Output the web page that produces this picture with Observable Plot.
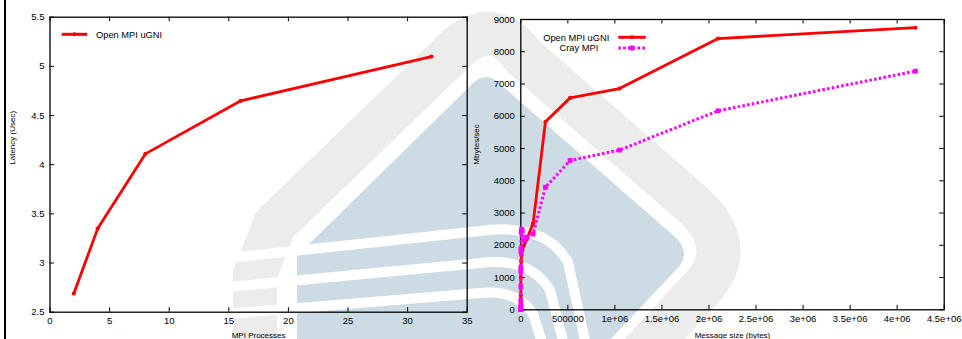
<!DOCTYPE html>
<html><head><meta charset="utf-8">
<script src="https://cdn.jsdelivr.net/npm/d3@7"></script>
<script src="https://cdn.jsdelivr.net/npm/@observablehq/plot@0.6"></script>
<style>
body{margin:0;background:#fff;}
#wrap{position:relative;width:962px;height:339px;overflow:hidden;font-family:"Liberation Sans",Arial,Helvetica,sans-serif;}
#wrap svg{position:absolute;top:0;}
#border{position:absolute;left:4px;top:0;width:1.6px;height:339px;background:#000;}
</style></head><body>
<div id="wrap">
<svg id="wm" width="962" height="339" style="left:0">
  <path d="M297,345 L297,256 L472,84 Q486,70 500,84 L674,236 Q694,254 674,272 L605,345 Z" fill="#cddbe5"/>
  <path d="M255,360 L255,275 L275,224 L447,58 Q490,10 524,57 L698,209 Q738,250 700,290 L635,360" fill="none" stroke="#ebeceb" stroke-width="44" stroke-linejoin="round"/>
  <path d="M228,258 L480,231 Q545,222 568,262 L586,345" fill="none" stroke="#fff" stroke-width="10"/>
  <path d="M228,287 L480,263 Q530,257 550,290 L564,345" fill="none" stroke="#fff" stroke-width="10"/>
  <path d="M228,314 L480,293 Q517,289 533,314 L543,345" fill="none" stroke="#fff" stroke-width="10"/>
</svg>
<div id="border"></div>
</div>
<script>
// ---- data ----
const procs = [2, 4, 8, 16, 32];
const latency = [2.69, 3.35, 4.11, 4.65, 5.10];

const msgSizes = [1, 2, 4, 8, 16, 32, 64, 128, 256, 512, 1024, 2048, 4096, 8192, 16384, 32768,
  65536, 131072, 262144, 524288, 1048576, 2097152, 4194304];
const ugniBw = [2, 4, 8, 15, 30, 60, 120, 240, 450, 750, 1000, 1250, 1500, 1700, 1850, 1990,
  2200, 2680, 5830, 6570, 6860, 8410, 8745];
const crayBw = [5, 10, 20, 40, 80, 150, 300, 720, 1200, 1300, 1800, 1900, 2400, 2500, 2450, 2150,
  2250, 2350, 3800, 4630, 4950, 6170, 7400];

const leftXTicks = [0, 5, 10, 15, 20, 25, 30, 35];
const leftYTicks = [2.5, 3, 3.5, 4, 4.5, 5, 5.5];
const leftYTickLabels = ["2.5", "3", "3.5", "4", "4.5", "5", "5.5"];
const rightXTicks = [0, 500000, 1000000, 1500000, 2000000, 2500000, 3000000, 3500000, 4000000, 4500000];
const rightXTickLabels = ["0", "500000", "1e+06", "1.5e+06", "2e+06", "2.5e+06", "3e+06", "3.5e+06", "4e+06", "4.5e+06"];
const rightYTicks = [0, 1000, 2000, 3000, 4000, 5000, 6000, 7000, 8000, 9000];

const leftTitleX = "MPI Processes", leftTitleY = "Latency (Usec)";
const rightTitleX = "Message size (bytes)", rightTitleY = "Mbytes/sec";
const seriesNames = ["Open MPI uGNI", "Cray MPI"];
const colors = ["#ff0000", "#ff00ff"];

// ---- tables ----
const latData = procs.map((p, i) => ({p, v: latency[i]}));
const ugniData = msgSizes.map((s, i) => ({s, v: ugniBw[i]}));
const crayData = msgSizes.map((s, i) => ({s, v: crayBw[i]}));

const FONT = '"Liberation Sans", Arial, Helvetica, sans-serif';
const TL = 4.5; // tick length
const DASH = "2.6,2.2";

function innerTicks(xt, yt, W, H, m) {
  const fw = W - m.l - m.r, fh = H - m.t - m.b;
  return [
    Plot.tickX(xt, {x: d => d, insetTop: fh - TL, stroke: "#000", strokeWidth: 1}),
    Plot.tickX(xt, {x: d => d, insetBottom: fh - TL, stroke: "#000", strokeWidth: 1}),
    Plot.tickY(yt, {y: d => d, insetRight: fw - TL, stroke: "#000", strokeWidth: 1}),
    Plot.tickY(yt, {y: d => d, insetLeft: fw - TL, stroke: "#000", strokeWidth: 1})
  ];
}

function legendMark(items) {
  return (index, scales, values, dims) => {
    const g = d3.create("svg:g");
    for (const it of items) {
      const x0 = dims.marginLeft, y0 = dims.marginTop + it.dy;
      g.append("line").attr("x1", x0 + it.l1).attr("x2", x0 + it.l2).attr("y1", y0).attr("y2", y0)
        .attr("stroke", it.color).attr("stroke-width", 3).attr("stroke-dasharray", it.dash || null);
      const mx = x0 + (it.l1 + it.l2) / 2;
      if (it.square) g.append("rect").attr("x", mx - 2.4).attr("y", y0 - 2.4).attr("width", 4.8).attr("height", 4.8).attr("fill", it.color);
      else g.append("circle").attr("cx", mx).attr("cy", y0).attr("r", 2).attr("fill", it.color);
      g.append("text").attr("x", x0 + it.tx).attr("y", y0).attr("dy", "0.35em")
        .attr("text-anchor", it.anchor).attr("font-size", "9.3px").attr("font-family", FONT).attr("fill", "#000").text(it.label);
    }
    return g.node();
  };
}

// ---- left chart ----
{
  const W = 480, H = 339, m = {l: 49.5, r: 13.3, t: 16.7, b: 27.3};
  const chart = Plot.plot({
    width: W, height: H,
    marginLeft: m.l, marginRight: m.r, marginTop: m.t, marginBottom: m.b,
    style: {background: "transparent", fontFamily: FONT, fontSize: "9.5px", color: "#000", overflow: "visible"},
    x: {domain: [0, 35], ticks: leftXTicks, tickSize: 0, tickPadding: 5.5, label: null},
    y: {domain: [2.5, 5.5], ticks: leftYTicks, tickSize: 0, tickPadding: 5.5, label: null, tickFormat: (d, i) => leftYTickLabels[i]},
    marks: [
      Plot.frame({stroke: "#000", strokeWidth: 1.3}),
      ...innerTicks(leftXTicks, leftYTicks, W, H, m),
      Plot.line(latData, {x: "p", y: "v", stroke: colors[0], strokeWidth: 2.8}),
      Plot.dot(latData, {x: "p", y: "v", r: 2.1, fill: colors[0]}),
      Plot.text([leftTitleX], {frameAnchor: "bottom", dy: 23.5, lineAnchor: "middle", fontSize: 8, fill: "#000"}),
      Plot.text([leftTitleY], {frameAnchor: "left", dx: -37.5, rotate: -90, lineAnchor: "middle", fontSize: 8, fill: "#000"}),
      legendMark([{dy: 17.6, l1: 12.2, l2: 37.8, tx: 46.5, anchor: "start", color: colors[0], label: seriesNames[0]}])
    ]
  });
  chart.style.left = "0px";
  document.getElementById("wrap").appendChild(chart);
}

// ---- right chart ----
{
  const OX = 468;
  const W = 962 - OX, H = 339, m = {l: 520.3 - OX, r: 962 - 943.7, t: 19, b: 29.7};
  const chart = Plot.plot({
    width: W, height: H,
    marginLeft: m.l, marginRight: m.r, marginTop: m.t, marginBottom: m.b,
    style: {background: "transparent", fontFamily: FONT, fontSize: "9.5px", color: "#000", overflow: "visible"},
    x: {domain: [0, 4500000], ticks: rightXTicks, tickSize: 0, tickPadding: 5.5, label: null, tickFormat: (d, i) => rightXTickLabels[i]},
    y: {domain: [0, 9000], ticks: rightYTicks, tickSize: 0, tickPadding: 6, label: null, tickFormat: d => String(d)},
    marks: [
      Plot.frame({stroke: "#000", strokeWidth: 1.3}),
      ...innerTicks(rightXTicks, rightYTicks, W, H, m),
      Plot.line(ugniData, {x: "s", y: "v", stroke: colors[0], strokeWidth: 2.8}),
      Plot.dot(ugniData, {x: "s", y: "v", r: 2.1, fill: colors[0]}),
      Plot.line(crayData, {x: "s", y: "v", stroke: colors[1], strokeWidth: 3, strokeDasharray: DASH, strokeLinecap: "butt", strokeLinejoin: "miter"}),
      Plot.dot(crayData, {x: "s", y: "v", r: 2.7, symbol: "square", fill: colors[1]}),
      Plot.text([rightTitleX], {frameAnchor: "bottom", dy: 25.5, lineAnchor: "middle", fontSize: 8, fill: "#000"}),
      Plot.text([rightTitleY], {frameAnchor: "left", dx: -44.3, rotate: -90, lineAnchor: "middle", fontSize: 8, fill: "#000"}),
      legendMark([
        {dy: 18.3, l1: 98, l2: 125.4, tx: 89, anchor: "end", color: colors[0], label: seriesNames[0]},
        {dy: 29, l1: 98, l2: 125.4, tx: 78, anchor: "end", color: colors[1], label: seriesNames[1], dash: DASH, square: true}
      ])
    ]
  });
  chart.style.left = OX + "px";
  document.getElementById("wrap").appendChild(chart);
}
</script>
</body></html>
